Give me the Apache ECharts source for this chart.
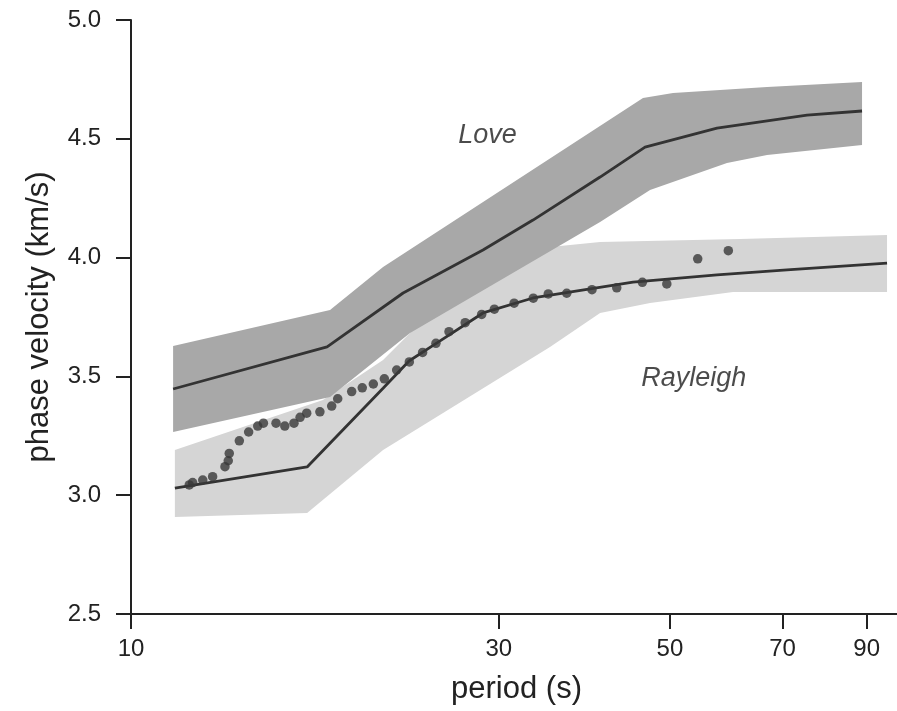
<!DOCTYPE html>
<html>
<head>
<meta charset="utf-8">
<script src="https://cdn.jsdelivr.net/npm/echarts@6/dist/echarts.min.js"></script>
<style>
html,body{margin:0;padding:0;background:#fff;}
#chart{width:897px;height:711px;}
</style>
</head>
<body>
<div id="chart"></div>
<script>
// ---- data (period in s, phase velocity in km/s) ----
const periodTicks = [10, 30, 50, 70, 90];
const velocityTicks = [2.5, 3.0, 3.5, 4.0, 4.5, 5.0];

const loveLine = [[11.34,3.447],[17.96,3.624],[22.54,3.851],[28.61,4.032],[33.22,4.158],[40.59,4.339],[46.42,4.465],[57.55,4.545],[75.31,4.600],[88.75,4.617]];
const loveUpper = [[11.34,3.628],[18.12,3.779],[21.23,3.960],[46.14,4.672],[50.47,4.693],[66.83,4.718],[88.75,4.739]];
const loveLower = [[11.34,3.266],[18.12,3.413],[23.01,3.683],[40.59,4.150],[47.12,4.285],[59.29,4.398],[66.83,4.432],[88.75,4.474]];

const rayleighLine = [[11.40,3.030],[16.92,3.119],[21.23,3.450],[22.94,3.565],[24.94,3.641],[28.61,3.767],[33.22,3.830],[44.78,3.897],[57.55,3.927],[70.94,3.948],[95.63,3.977]];
const rayleighUpper = [[11.40,3.190],[17.74,3.401],[21.23,3.569],[23.01,3.683],[25.92,3.893],[28.61,4.003],[33.92,4.040],[40.59,4.066],[61.64,4.078],[95.63,4.095]];
const rayleighLower = [[11.40,2.908],[16.92,2.925],[21.23,3.190],[34.95,3.624],[40.59,3.767],[47.12,3.809],[60.37,3.855],[95.63,3.855]];

const obsPeriod = [11.90,12.02,12.39,12.76,13.24,13.37,13.41,13.82,14.21,14.60,14.85,15.42,15.83,16.27,16.57,16.90,17.58,18.21,18.54,19.33,19.95,20.62,21.31,22.11,22.96,23.89,24.86,25.85,27.13,28.50,29.60,31.40,33.25,34.77,36.74,39.62,42.66,46.05,49.54,54.33,59.53];
const obsVelocity = [3.043,3.053,3.064,3.078,3.120,3.145,3.176,3.229,3.266,3.291,3.303,3.303,3.291,3.303,3.328,3.345,3.351,3.375,3.406,3.436,3.452,3.468,3.490,3.527,3.561,3.601,3.639,3.688,3.726,3.761,3.783,3.808,3.829,3.847,3.850,3.865,3.873,3.896,3.889,3.995,4.029];

const labelNames = ['Love', 'Rayleigh'];
const labelPeriods = [29.0, 53.7];
const labelVelocities = [4.516, 3.493];

// ---- chart ----
const FONT = "'Liberation Sans', Arial, Helvetica, sans-serif";
const chart = echarts.init(document.getElementById('chart'), null, {renderer: 'canvas'});

function bandSeries(upper, lower, color, z) {
  const poly = upper.concat(lower.slice().reverse());
  return {
    type: 'custom',
    z: z,
    silent: true,
    clip: false,
    data: poly,
    encode: {x: 0, y: 1},
    renderItem: function (params, api) {
      if (params.dataIndex !== 0) return null;
      return {
        type: 'polygon',
        shape: {points: poly.map(function (p) { return api.coord(p); })},
        style: {fill: color, stroke: null}
      };
    }
  };
}

const option = {
  animation: false,
  backgroundColor: '#ffffff',
  grid: {left: 131, top: 20, width: 771, height: 594, containLabel: false, outerBoundsMode: 'none'},
  xAxis: {
    type: 'log',
    logBase: 10,
    min: 10,
    max: 100,
    name: 'period (s)',
    nameLocation: 'middle',
    nameGap: 60,
    nameTextStyle: {fontSize: 31, color: '#222', fontFamily: FONT},
    axisLine: {show: true, onZero: false, lineStyle: {color: '#222', width: 2}},
    axisTick: {show: true, inside: false, length: 15, customValues: periodTicks, lineStyle: {color: '#222', width: 2}},
    axisLabel: {show: true, customValues: periodTicks, margin: 23, fontSize: 24, color: '#222', fontFamily: FONT,
      formatter: function (v) { return String(Math.round(v)); }},
    splitLine: {show: false},
    minorTick: {show: false}
  },
  yAxis: {
    type: 'value',
    min: 2.5,
    max: 5.0,
    interval: 0.5,
    name: 'phase velocity (km/s)',
    nameLocation: 'middle',
    nameGap: 76,
    nameTextStyle: {fontSize: 31, color: '#222', fontFamily: FONT},
    axisLine: {show: true, onZero: false, lineStyle: {color: '#222', width: 2}},
    axisTick: {show: true, inside: false, length: 15, lineStyle: {color: '#222', width: 2}},
    axisLabel: {margin: 30, fontSize: 24, color: '#222', fontFamily: FONT,
      formatter: function (v) { return v.toFixed(1); }},
    splitLine: {show: false}
  },
  series: [
    bandSeries(rayleighUpper, rayleighLower, '#d5d5d5', 1),
    bandSeries(loveUpper, loveLower, '#a8a8a8', 2),
    {
      type: 'line', z: 5, data: loveLine, symbol: 'none', silent: true,
      lineStyle: {color: '#333', width: 2.8}
    },
    {
      type: 'line', z: 5, data: rayleighLine, symbol: 'none', silent: true,
      lineStyle: {color: '#333', width: 2.8}
    },
    {
      type: 'scatter', z: 6, silent: true,
      data: obsPeriod.map(function (p, i) { return [p, obsVelocity[i]]; }),
      symbol: 'circle', symbolSize: 9.5,
      itemStyle: {color: '#383838'}
    },
    {
      type: 'scatter', z: 7, silent: true,
      data: labelNames.map(function (n, i) { return {name: n, value: [labelPeriods[i], labelVelocities[i]]}; }),
      symbolSize: 0,
      label: {show: true, position: 'inside', formatter: '{b}', fontSize: 27, fontStyle: 'italic',
        color: '#1e1e1e', fontFamily: FONT}
    }
  ]
};
chart.setOption(option);
</script>
</body>
</html>
